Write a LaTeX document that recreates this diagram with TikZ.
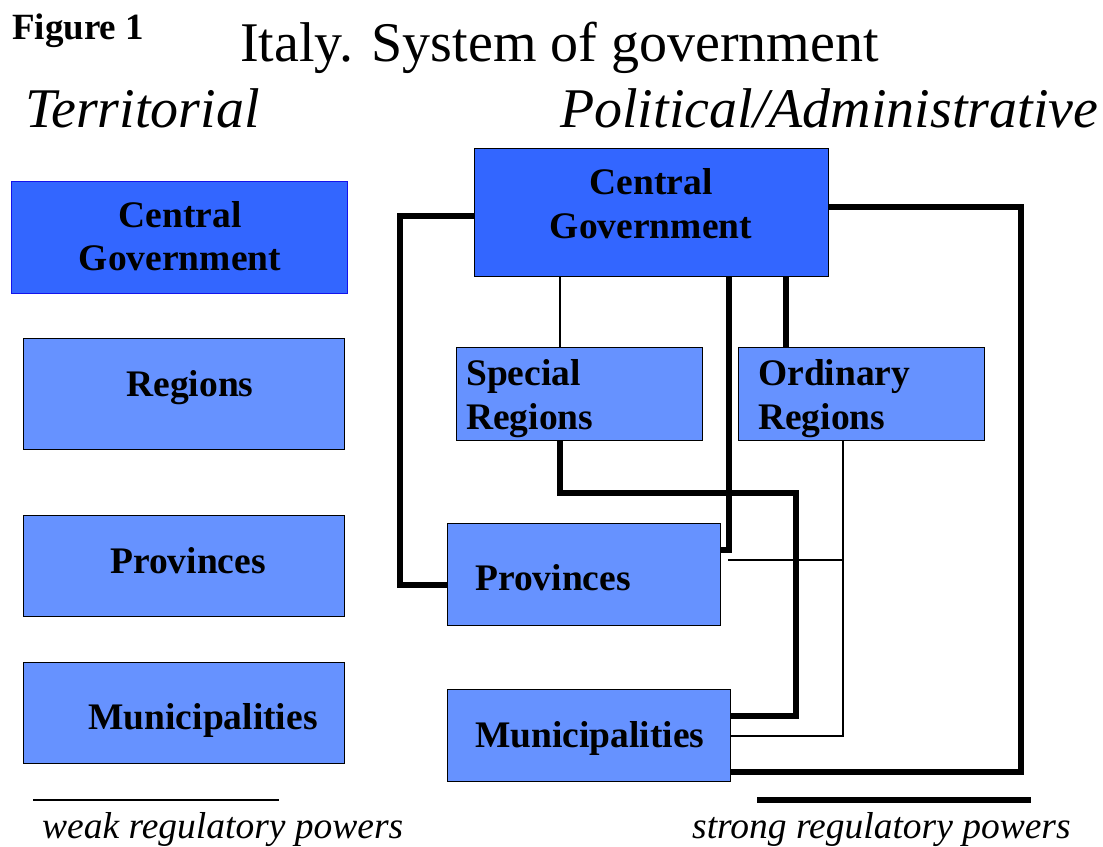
\documentclass[tikz,border=0pt]{standalone}
\usepackage{fontspec}
\setmainfont{Liberation Serif}
\begin{document}
\definecolor{govblue}{RGB}{51,102,255}
\definecolor{boxblue}{RGB}{102,146,255}
\definecolor{edgeblue}{RGB}{20,20,235}
\begin{tikzpicture}[x=1pt,y=-1pt,
  box/.style={draw=black,line width=1.4pt,fill=boxblue,rectangle,inner sep=0pt,anchor=north west},
  govbox/.style={box,fill=govblue},
  lbl/.style={inner sep=0pt,font=\fontsize{37.5}{43}\selectfont\bfseries},
  heading/.style={inner sep=0pt,anchor=base west,font=\fontsize{56}{60}\selectfont\itshape},
  legend/.style={inner sep=0pt,anchor=base west,font=\fontsize{37.5}{43}\selectfont\itshape},
  weak/.style={line width=1.5pt},
  strong/.style={line width=6pt,line join=miter}]
\useasboundingbox (0,0) rectangle (1103,846);

% titles
\node[inner sep=0pt,anchor=base west,font=\fontsize{37}{43}\selectfont\bfseries] (fig) at (12,39) {Figure 1};
\node[inner sep=0pt,anchor=base west,font=\fontsize{56}{60}\selectfont] (title) at (240,61) {Italy. System of government};
\node[heading] (terr) at (25,127) {Territorial};
\node[heading] (pol) at (560,127) {Political/Administrative};

% territorial column
\node[govbox,draw=edgeblue,minimum width=336pt,minimum height=112pt] (tcg) at (11,181) {};
\node[box,minimum width=321pt,minimum height=111pt] (treg) at (23,338) {};
\node[box,minimum width=321pt,minimum height=101pt] (tprov) at (23,515) {};
\node[box,minimum width=321pt,minimum height=101pt] (tmun) at (23,662) {};
\node[lbl,anchor=base] (tcg1) at (180,227) {Central};
\node[lbl,anchor=base] (tcg2) at (180,270) {Government};
\node[lbl,anchor=base] (tregt) at (190,396) {Regions};
\node[lbl,anchor=base] (tprovt) at (188,573) {Provinces};
\node[lbl,anchor=base] (tmunt) at (203,729) {Municipalities};

% political/administrative structure
\node[govbox,minimum width=354pt,minimum height=128pt] (cg) at (474,148) {};
\node[box,minimum width=246pt,minimum height=93pt] (sr) at (456,347) {};
\node[box,minimum width=246pt,minimum height=93pt] (or) at (738,347) {};
\node[box,minimum width=273pt,minimum height=102pt] (pr) at (447,523) {};
\node[box,minimum width=283pt,minimum height=92pt] (mu) at (447,689) {};
\node[lbl,anchor=base] (cg1) at (651,194) {Central};
\node[lbl,anchor=base] (cg2) at (651,238) {Government};
\node[lbl,anchor=base west] (sr1) at (466,385) {Special};
\node[lbl,anchor=base west] (sr2) at (466,429) {Regions};
\node[lbl,anchor=base west] (or1) at (758,385) {Ordinary};
\node[lbl,anchor=base west] (or2) at (758,429) {Regions};
\node[lbl,anchor=base west] (prt) at (475,590) {Provinces};
\node[lbl,anchor=base west] (mut) at (475,747) {Municipalities};

% weak links
\draw[weak] (cg.south -| 560,0) -- (sr.north -| 560,0);
\draw[weak] (or.south -| 843,0) |- (mu.east |- 0,736);
\coordinate (pj) at (728,560);
\draw[weak] (pj) -- (843,560);

% strong links
\draw[strong] (cg.west |- 0,216) -| (400,585) -- (pr.west |- 0,585);
\draw[strong] (cg.south -| 729,0) -- (729,550) -- (pr.east |- 0,550);
\draw[strong] (cg.south -| 786,0) -- (or.north -| 786,0);
\draw[strong] (sr.south -| 560,0) |- (796,493) |- (mu.east |- 0,716);
\draw[strong] (cg.east |- 0,207) -| (1021,772) -- (mu.east |- 0,772);

% legend
\draw[weak] (33,800) -- (279,800);
\draw[line width=6pt] (757,800) -- (1031,800);
\node[legend] (wk) at (42,838) {weak regulatory powers};
\node[legend] (st) at (692,838) {strong regulatory powers};
\end{tikzpicture}
\end{document}
